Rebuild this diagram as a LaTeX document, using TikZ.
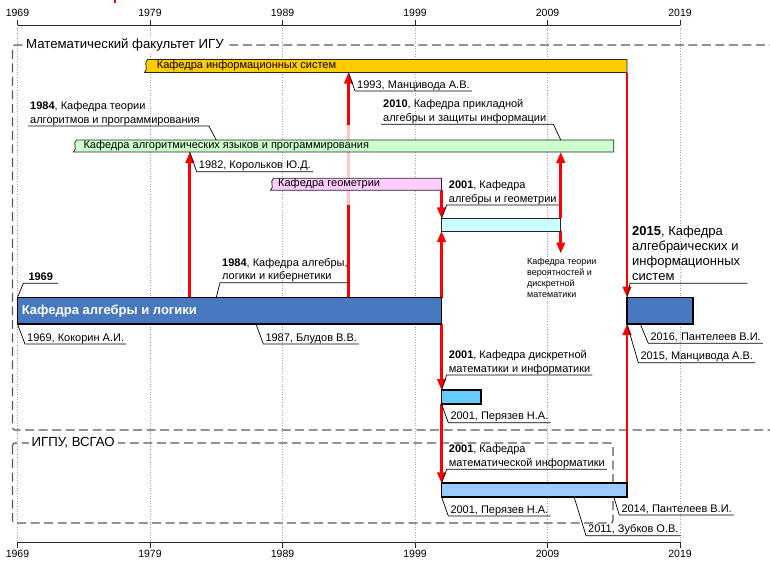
\documentclass[tikz,border=0pt]{standalone}
\usepackage{fontspec}
\setmainfont{Liberation Sans}
\usetikzlibrary{arrows.meta}
\definecolor{cYel}{HTML}{FFCC00}
\definecolor{cGrn}{HTML}{CCFFCC}
\definecolor{cPnk}{HTML}{FFCCFF}
\definecolor{cCyn}{HTML}{CCFFFF}
\definecolor{cBlu}{HTML}{4878C0}
\definecolor{cSky}{HTML}{66CCFF}
\definecolor{cLbl}{HTML}{99CCFF}
\definecolor{cFade}{HTML}{FFC4C4}
\newcommand\lowstrut{\rule[-2.6pt]{0pt}{2.6pt}}
\begin{document}
\begin{tikzpicture}[x=1pt,y=-1pt,
  lbl/.style={font=\fontsize{11}{13.5}\selectfont, inner xsep=2pt, inner ysep=0.2pt, anchor=south west, align=left, execute at end node=\lowstrut},
  leader/.style={draw=black, line width=0.7pt},
  redarrow/.style={draw=red, line width=2.6pt, -{Triangle[length=11pt,width=8.5pt]}},
  barbox/.style={draw=none, fill=none, inner sep=0pt, outer sep=0pt, anchor=north west},
  bartxt/.style={font=\fontsize{11}{13}\selectfont, anchor=west, inner sep=0pt, text height=7.6pt, text depth=2.3pt},
  thinbar/.style={draw=black!85, line width=0.8pt},
  thickbar/.style={draw=black, line width=1.8pt},
  gridline/.style={draw=black!35, dotted, line width=0.6pt},
  axisline/.style={draw=black!85, line width=0.9pt},
  region/.style={draw=black!65, line width=1.2pt, dash pattern=on 9pt off 4.5pt, rounded corners=2.5pt},
  regionlbl/.style={fill=white, inner xsep=3pt, inner ysep=1pt, font=\fontsize{13.2}{15}\selectfont, anchor=west},
  yearlbl/.style={font=\fontsize{10.5}{12}\selectfont, inner sep=0pt}
]
\useasboundingbox (0,0) rectangle (770,560);

% year x positions
\coordinate (x1982) at (189.75,0);
\coordinate (x1984) at (216.25,0);
\coordinate (x1987) at (256,0);
\coordinate (x1994) at (348.5,0);
\coordinate (x2001) at (441.5,0);
\coordinate (x2010) at (560.75,0);
\coordinate (x2011) at (574,0);
\coordinate (x2014) at (613.75,0);
\coordinate (x2015) at (627,0);
\coordinate (x2016) at (640.25,0);
\coordinate (fadeTop) at (0,125);
\coordinate (fadeBot) at (0,205);

% grid and axes
\foreach \yr [count=\i from 0] in {1969,1979,1989,1999,2009,2019}{
  \pgfmathsetmacro\xx{17.5+132.5*\i}
  \draw[gridline] (\xx,25) -- (\xx,542.3);
  \draw[axisline] (\xx,20) -- (\xx,25);
  \draw[axisline] (\xx,542.3) -- (\xx,548);
  \node[yearlbl] (t\yr) at (\xx,12.5) {\yr};
  \node[yearlbl] (b\yr) at (\xx,553.8) {\yr};
}
\draw[axisline] (17.5,25) -- (680,25);
\draw[axisline] (17.5,542.3) -- (680,542.3);

% cut-off red mark at top
\draw[red, line width=2pt] (115,0) -- (115,2.5);

% regions
\draw[region] (790,430) -- (12.5,430) -- (12.5,45) -- (790,45);
\draw[region] (12.5,443) rectangle (613,523);
\node[regionlbl] (mf) at (23,45) {Математический факультет ИГУ};
\node[regionlbl] (ig) at (28.5,443) {ИГПУ, ВСГАО};

% bar frames
\node[barbox, minimum width=481pt, minimum height=13pt] (yel) at (146,59.5) {};
\node[barbox, minimum width=538.75pt, minimum height=12pt] (grn) at (75,140) {};
\node[barbox, minimum width=169.5pt, minimum height=12pt] (pnk) at (272,178.3) {};
\node[barbox, minimum width=119.25pt, minimum height=12.7pt] (cyn) at (441.5,218.3) {};
\node[barbox, minimum width=424pt, minimum height=26.5pt] (alg) at (17.5,297.5) {};
\node[barbox, minimum width=66.25pt, minimum height=26.5pt] (bl2) at (627,297.5) {};
\node[barbox, minimum width=39.75pt, minimum height=14pt] (sky) at (441.5,390) {};
\node[barbox, minimum width=185.5pt, minimum height=13.4pt] (mi) at (441.5,483.3) {};

\node[font=\fontsize{9}{11}\selectfont, align=left, anchor=north west, inner xsep=0pt, inner ysep=4pt] (kt) at (527,253.5)
  {Кафедра теории\\вероятностей и\\дискретной\\математики};

% red arrows
\draw[redarrow] (alg.north -| x1982) -- (grn.south -| x1982);
\draw[redarrow] (alg.north -| x1994) -- (yel.south -| x1994);
\draw[cFade, line width=2.7pt] (x1994 |- fadeTop) -- (x1994 |- fadeBot);
\draw[redarrow] (pnk.south -| x2001) -- (cyn.north -| x2001);
\draw[redarrow] (alg.north -| x2001) -- (cyn.south -| x2001);
\draw[redarrow] (alg.south -| x2001) -- (sky.north -| x2001);
\draw[redarrow] (sky.south -| x2001) -- (mi.north -| x2001);
\draw[redarrow] (cyn.north -| x2010) -- (grn.south -| x2010);
\draw[redarrow] (cyn.south -| x2010) -- (kt.north -| x2010);
\draw[redarrow] (yel.south -| x2015) -- (bl2.north -| x2015);
\draw[redarrow] (mi.north -| x2015) -- (bl2.south -| x2015);

% bars
\filldraw[thinbar, fill=cYel] (yel.north east) -- ([xshift=1.5pt]yel.north west)
  .. controls ([xshift=-3pt,yshift=-4pt]yel.north west) and ([xshift=3pt,yshift=4pt]yel.south west) .. ([xshift=-1.5pt]yel.south west)
  -- (yel.south east) -- cycle;
\filldraw[thinbar, fill=cGrn] (grn.north east) -- ([xshift=1.5pt]grn.north west)
  .. controls ([xshift=-3pt,yshift=-4pt]grn.north west) and ([xshift=3pt,yshift=4pt]grn.south west) .. ([xshift=-1.5pt]grn.south west)
  -- (grn.south east) -- cycle;
\filldraw[thinbar, fill=cPnk] (pnk.north east) -- ([xshift=1.5pt]pnk.north west)
  .. controls ([xshift=-3pt,yshift=-4pt]pnk.north west) and ([xshift=3pt,yshift=4pt]pnk.south west) .. ([xshift=-1.5pt]pnk.south west)
  -- (pnk.south east) -- cycle;
\filldraw[thinbar, fill=cCyn] (cyn.north west) rectangle (cyn.south east);
\filldraw[thickbar, fill=cBlu] (alg.north west) rectangle (alg.south east);
\filldraw[thickbar, fill=cBlu] (bl2.north west) rectangle (bl2.south east);
\filldraw[thickbar, fill=cSky] (sky.north west) rectangle (sky.south east);
\filldraw[thickbar, fill=cLbl] (mi.north west) rectangle (mi.south east);

% bar texts
\node[bartxt] (yelt) at (156.7,66) {Кафедра информационных систем};
\node[bartxt] (grnt) at (83.3,146) {Кафедра алгоритмических языков и программирования};
\node[bartxt] (pnkt) at (278,184.2) {Кафедра геометрии};
\node[anchor=west, inner sep=0pt, text=white, font=\bfseries\fontsize{13}{15}\selectfont, text height=9pt, text depth=2.7pt] (algt) at (21.7,311) {Кафедра алгебры и логики};

% callout labels
\node[lbl] (l1993) at (355,91) {1993, Манцивода А.В.};
\draw[leader] (yel.south -| x1994) -- (l1993.south west) -- (l1993.south east);

\node[lbl] (l1984a) at (28,126) {\textbf{1984}, Кафедра теории\\алгоритмов и программирования};
\draw[leader] (grn.north -| x1984) -- ([xshift=7pt]l1984a.south east) -- (l1984a.south west);

\node[lbl] (l2010) at (381,124.3) {\textbf{2010}, Кафедра прикладной\\алгебры и защиты информации};
\draw[leader] (grn.north -| x2010) -- ([xshift=5pt]l2010.south east) -- (l2010.south west);

\node[lbl] (l1982) at (196.7,171.7) {1982, Корольков Ю.Д.};
\draw[leader] (grn.south -| x1982) -- (l1982.south west) -- (l1982.south east);

\node[lbl] (l2001a) at (446.7,205) {\textbf{2001}, Кафедра\\алгебры и геометрии};
\draw[leader] (cyn.north west) -- (l2001a.south west) -- (l2001a.south east);

\node[lbl, font=\fontsize{13}{15}\selectfont] (l2015) at (630,283.3) {\textbf{2015}, Кафедра\\алгебраических и\\информационных\\систем};
\draw[leader] (bl2.north west) -- (l2015.south west) -- ([xshift=5pt]l2015.south east);

\node[lbl, inner xsep=5pt] (l1969) at (23.3,283.3) {\textbf{1969}};
\draw[leader] (alg.north west) -- (l1969.south west) -- (l1969.south east);

\node[lbl] (l1984b) at (220,282.7) {\textbf{1984}, Кафедра алгебры,\\логики и кибернетики};
\draw[leader] (alg.north -| x1984) -- (l1984b.south west) -- (l1984b.south east);

\node[lbl] (lkok) at (25,344) {1969, Кокорин А.И.};
\draw[leader] (alg.south west) -- (lkok.south west) -- (lkok.south east);

\node[lbl] (lblu) at (263.3,344) {1987, Блудов В.В.};
\draw[leader] (alg.south -| x1987) -- (lblu.south west) -- (lblu.south east);

\node[lbl] (l2016) at (648.3,343.3) {2016, Пантелеев В.И.};
\draw[leader] (bl2.south -| x2016) -- (l2016.south west) -- (l2016.south east);

\node[lbl] (l2015b) at (638.3,362.7) {2015, Манцивода А.В.};
\draw[leader] (bl2.south west) -- (l2015b.south west) -- (l2015b.south east);

\node[lbl] (l2001b) at (446.7,375) {\textbf{2001}, Кафедра дискретной\\математики и информатики};
\draw[leader] (sky.north west) -- (l2001b.south west) -- (l2001b.south east);

\node[lbl] (lper1) at (448.3,422.7) {2001, Перязев Н.А.};
\draw[leader] (sky.south west) -- (lper1.south west) -- (lper1.south east);

\node[lbl] (l2001c) at (446.7,469.3) {\textbf{2001}, Кафедра\\математической информатики};
\draw[leader] (mi.north west) -- (l2001c.south west) -- (l2001c.south east);

\node[lbl] (lper2) at (448.3,516) {2001, Перязев Н.А.};
\draw[leader] (mi.south west) -- (lper2.south west) -- (lper2.south east);

\node[lbl] (l2014) at (619.3,515) {2014, Пантелеев В.И.};
\draw[leader] (mi.south -| x2014) -- (l2014.south west) -- (l2014.south east);

\node[lbl] (l2011) at (586,535.7) {2011, Зубков О.В.};
\draw[leader] (mi.south -| x2011) -- (l2011.south west) -- (l2011.south east);
\end{tikzpicture}
\end{document}
